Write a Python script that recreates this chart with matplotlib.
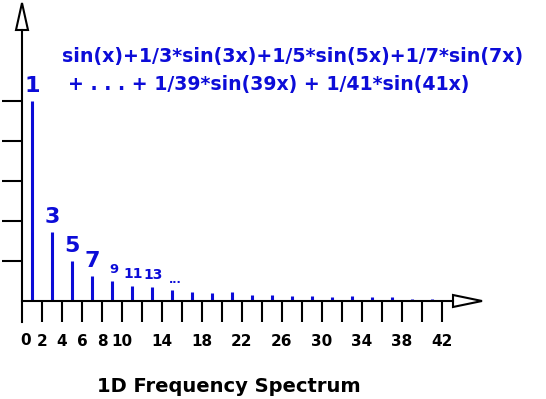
import numpy as np
import matplotlib.pyplot as plt
from matplotlib.patches import Polygon

plt.rcParams['font.family'] = ['DejaVu Sans']
plt.rcParams['font.weight'] = 'bold'

# harmonics and amplitudes
harm = [1, 3, 5, 7, 9, 11, 13, 15, 17, 19, 21, 23, 25, 27, 29, 31, 33, 35, 37, 39, 41]
amp = [1.0, 0.345, 0.2, 0.125, 0.1, 0.075, 0.07, 0.055, 0.045, 0.04, 0.045,
       0.03, 0.03, 0.025, 0.025, 0.02, 0.025, 0.02, 0.02, 0.012, 0.01]

# labels over the first bars
lab_text = ['1', '3', '5', '7', '9', '11', '13', '...']
lab_size = [16, 16, 16, 16, 9.5, 10, 10, 8]
lab_dx = [0, 0, 0, 0, 2, 1, 1, 3]

xtick_pos = list(range(2, 43, 2))
xtick_show = [2, 4, 6, 8, 10, 14, 18, 22, 26, 30, 34, 38, 42]
ytick_pos = [0.2, 0.4, 0.6, 0.8, 1.0]

line1 = 'sin(x)+1/3*sin(3x)+1/5*sin(5x)+1/7*sin(7x)'
line2 = '+ . . . + 1/39*sin(39x) + 1/41*sin(41x)'
title = '1D Frequency Spectrum'

blue = '#0c0cd8'

fig = plt.figure(figsize=(5.46, 3.99), dpi=100)
ax = fig.add_axes([0, 0, 1, 1])
# 10 px per x unit, 200 px per y unit, origin at pixel (22, 301)
ax.set_xlim(-2.2, 52.4)
ax.set_ylim(-0.49, 1.505)

ax.vlines(harm, 0, amp, colors=blue, linewidth=2.2)

for i, t in enumerate(lab_text):
    ax.annotate(t, (harm[i], amp[i]), xytext=(lab_dx[i] * 0.72, 3.5),
                textcoords='offset points', ha='center', va='bottom',
                fontsize=lab_size[i], color=blue, fontweight='bold')

# axes
for s in ['top', 'right']:
    ax.spines[s].set_visible(False)
ax.spines['left'].set_position(('data', 0))
ax.spines['bottom'].set_position(('data', 0))
ax.spines['left'].set_bounds(-0.105, 1.355)
ax.spines['bottom'].set_bounds(0, 43.1)
ax.spines['left'].set_linewidth(1.5)
ax.spines['bottom'].set_linewidth(1.5)

ax.set_xticks(xtick_pos)
ax.set_xticklabels([str(v) if v in xtick_show else '' for v in xtick_pos])
ax.set_yticks(ytick_pos)
ax.set_yticklabels([])
ax.tick_params(axis='x', direction='out', length=15, width=1.5, pad=9,
               labelsize=11, color='black')
ax.tick_params(axis='y', direction='out', length=14.5, width=1.5)
for lbl in ax.get_xticklabels():
    lbl.set_fontweight('bold')
ax.text(0.4, -0.105 - 9 / 200 - 0.01, '0', ha='center', va='top',
        fontsize=11, fontweight='bold')

# open arrow heads
ax.add_patch(Polygon([[-0.6, 1.355], [0.6, 1.355], [0, 1.49]], closed=True,
                     facecolor='white', edgecolor='black', linewidth=1.5,
                     clip_on=False))
ax.add_patch(Polygon([[43.1, 0.03], [43.1, -0.03], [46.0, 0]], closed=True,
                     facecolor='white', edgecolor='black', linewidth=1.5,
                     clip_on=False))

ax.text(4.0, 1.195, line1, ha='left', va='baseline', fontsize=13.7,
        color=blue, fontweight='bold')
ax.text(4.6, 1.055, line2, ha='left', va='baseline', fontsize=13.6,
        color=blue, fontweight='bold')
ax.text(20.65, -0.455, title, ha='center', va='baseline', fontsize=14,
        fontweight='bold')

fig.savefig('out.png', dpi=100)
